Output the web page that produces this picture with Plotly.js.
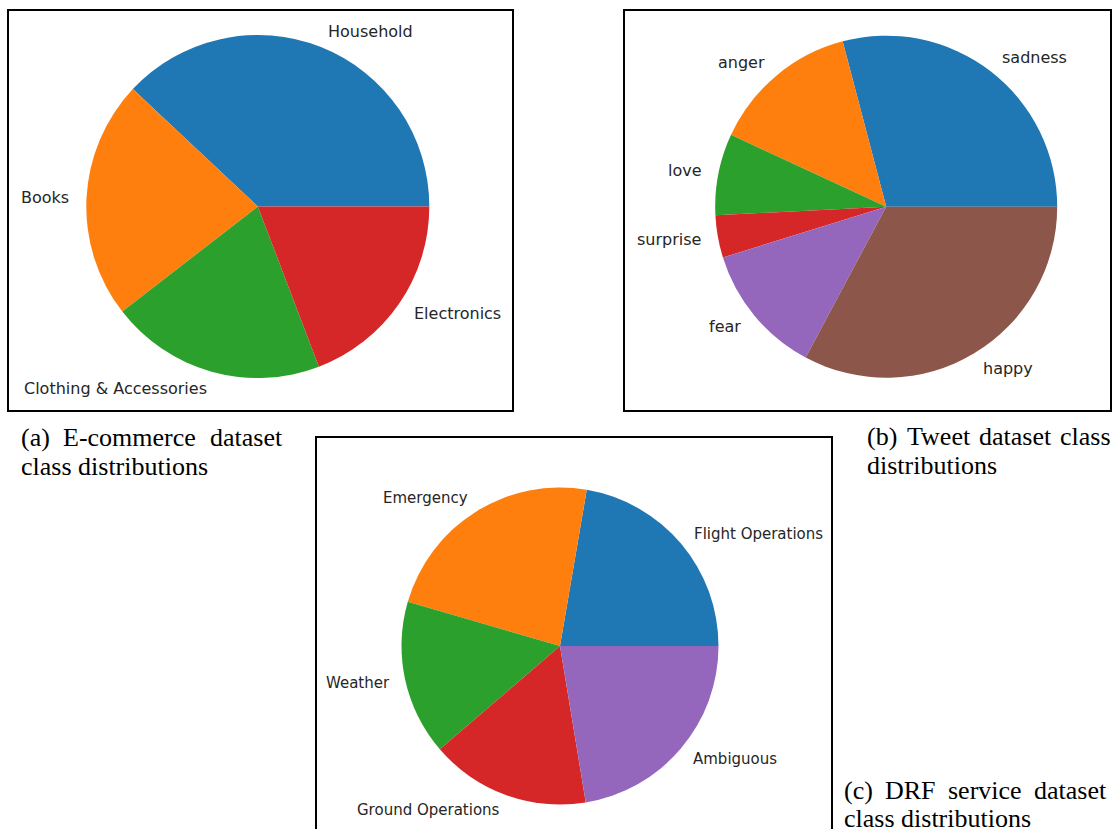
<!DOCTYPE html>
<html><head><meta charset="utf-8">
<script src="https://cdn.plot.ly/plotly-3.0.1.min.js"></script>
<style>html,body{margin:0;padding:0;background:#fff;overflow:hidden}#chart{width:1113px;height:829px}</style>
</head><body><div id="chart"></div>
<script>
// ---- data ----
const ecomLabels = ["Household", "Books", "Clothing & Accessories", "Electronics"];
const ecomValues = [38.0, 22.5, 20.3, 19.2];
const tweetLabels = ["sadness", "anger", "love", "surprise", "fear", "happy"];
const tweetValues = [29.1, 14.0, 7.7, 4.0, 12.4, 32.8];
const drfLabels = ["Flight Operations", "Emergency", "Weather", "Ground Operations", "Ambiguous"];
const drfValues = [22.3, 23.2, 15.8, 16.3, 22.4];
const captionA = ["(a) E-commerce dataset", "class distributions"];
const captionB = ["(b) Tweet dataset class", "distributions"];
const captionC = ["(c) DRF service dataset", "class distributions"];
const sliceColors = ["#1f77b4", "#ff7f0e", "#2ca02c", "#d62728", "#9467bd", "#8c564b"];

// ---- layout geometry (pixels) ----
const W = 1113, H = 829;
const panels = [
  {labels: ecomLabels, values: ecomValues, cx: 257.8, cy: 206.5, r: 171.5,
   box: [8, 10, 513, 411], cap: captionA, capX0: 20, capX1: 281, capY1: 437, capY2: 466, lblSize: 16},
  {labels: tweetLabels, values: tweetValues, cx: 886.2, cy: 206.7, r: 171,
   box: [624, 10, 1111, 411], cap: captionB, capX0: 866, capX1: 1110, capY1: 436, capY2: 465, lblSize: 16},
  {labels: drfLabels, values: drfValues, cx: 560, cy: 646, r: 158.5,
   box: [316, 437, 832, 840], cap: captionC, capX0: 843, capX1: 1105, capY1: 790, capY2: 818, lblSize: 15}
];

const px = x => x / W;
const py = y => 1 - y / H;

const capFont = {family: "Liberation Serif, 'Times New Roman', serif", size: 26, color: "#000"};
const lblFontFamily = "DejaVu Sans, sans-serif";

const canvas = document.createElement("canvas");
const ctx = canvas.getContext("2d");
ctx.font = "26px 'Liberation Serif'";
const measure = s => ctx.measureText(s).width;

const traces = [];
const annotations = [];
const shapes = [];

panels.forEach(p => {
  const total = p.values.reduce((a, b) => a + b, 0);
  // matplotlib style: first slice starts at 3 o'clock, slices follow counterclockwise.
  // Plotly's counterclockwise mode puts the first slice clockwise of `rotation`,
  // so rotate back by the first slice's angle.
  const rot = 90 - 360 * p.values[0] / total;
  traces.push({
    type: "pie",
    labels: p.labels,
    values: p.values,
    sort: false,
    direction: "counterclockwise",
    rotation: rot,
    textinfo: "none",
    hoverinfo: "label+percent",
    marker: {colors: sliceColors.slice(0, p.labels.length), line: {width: 0}},
    domain: {x: [px(p.cx - p.r), px(p.cx + p.r)], y: [py(p.cy + p.r), py(p.cy - p.r)]},
    showlegend: false
  });
  // labels at 1.1 * radius at mid-angle of each slice (matplotlib style)
  let cum = 0;
  p.values.forEach((v, i) => {
    const mid = (cum + v / 2) / total * 2 * Math.PI;
    cum += v;
    const lx = p.cx + 1.1 * p.r * Math.cos(mid);
    const ly = p.cy - 1.1 * p.r * Math.sin(mid);
    const right = Math.cos(mid) >= 0;
    annotations.push({
      xref: "paper", yref: "paper", x: px(lx), y: py(ly),
      xanchor: right ? "left" : "right", yanchor: "middle",
      xshift: right ? -1.5 : 2,
      text: p.labels[i], showarrow: false,
      font: {family: lblFontFamily, size: p.lblSize, color: "#262626"}
    });
  });
  // frame
  shapes.push({type: "rect", xref: "paper", yref: "paper",
    x0: px(p.box[0]), x1: px(p.box[2]), y0: py(p.box[3]), y1: py(p.box[1]),
    line: {color: "#000", width: 2}, fillcolor: "rgba(0,0,0,0)"});
  // caption line 1, justified between capX0 and capX1
  const words = p.cap[0].split(" ");
  const widths = words.map(measure);
  const gap = (p.capX1 - p.capX0 - widths.reduce((a, b) => a + b, 0)) / (words.length - 1);
  let x = p.capX0;
  words.forEach((w, i) => {
    annotations.push({xref: "paper", yref: "paper", x: px(x - 1), y: py(p.capY1),
      xanchor: "left", yanchor: "middle", text: w, showarrow: false, font: capFont});
    x += widths[i] + gap;
  });
  annotations.push({xref: "paper", yref: "paper", x: px(p.capX0 - 1), y: py(p.capY2),
    xanchor: "left", yanchor: "middle", text: p.cap[1], showarrow: false, font: capFont});
});

Plotly.newPlot("chart", traces, {
  width: W, height: H,
  margin: {l: 0, r: 0, t: 0, b: 0},
  paper_bgcolor: "#fff",
  annotations: annotations,
  shapes: shapes
}, {displayModeBar: false, staticPlot: true});
</script>
</body></html>
